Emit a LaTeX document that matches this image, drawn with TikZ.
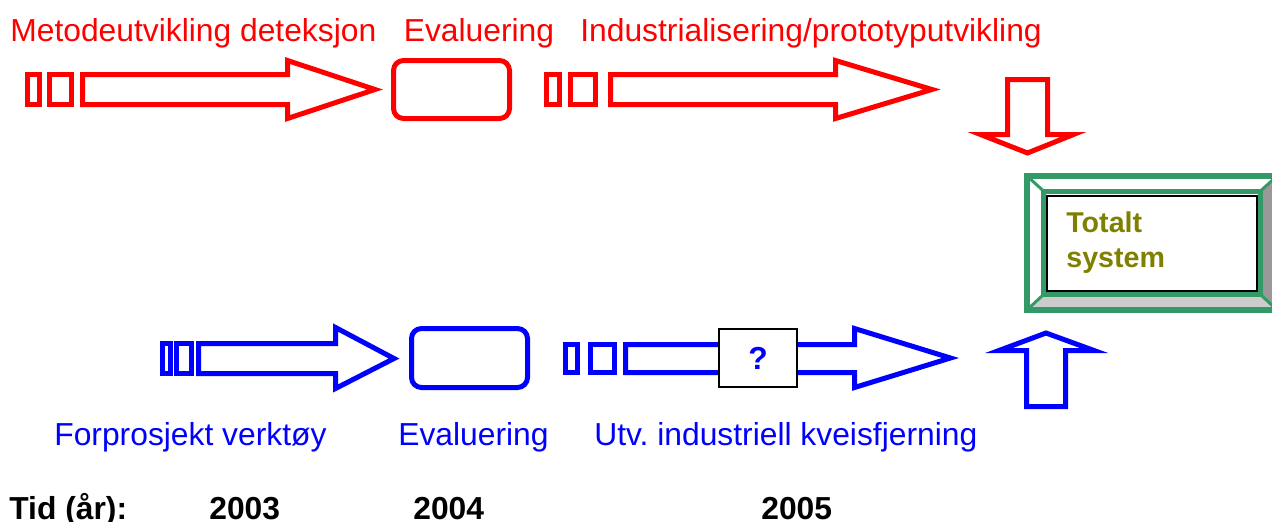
\documentclass[tikz,border=0pt]{standalone}
\usepackage{fontspec}
\setmainfont{Liberation Sans}
\definecolor{seagreen}{RGB}{51,153,102}
\definecolor{olivetext}{RGB}{128,128,0}
\definecolor{bevelgray}{RGB}{153,153,153}
\definecolor{bevellight}{RGB}{204,204,204}

\begin{document}
\begin{tikzpicture}[x=0.02cm, y=-0.02cm,
  redline/.style={draw=red, line width=0.1cm, line join=miter},
  blueline/.style={draw=blue, line width=0.1cm, line join=miter},
  phase/.style={inner sep=0pt, anchor=base west, font=\fontsize{18.1}{21.6}\selectfont},
  yeartext/.style={phase, font=\fontsize{18.1}{21.6}\selectfont\bfseries}]
\useasboundingbox (0,0) rectangle (1272,521); % adjust bounding box

% red track
\draw[redline] (27.5,74.5) rectangle (39.5,104.5);
\draw[redline] (49.5,74.5) rectangle (71.5,104.5);
\draw[redline]
     (82.5,74.5)
  -- (287.5,74.5)
  -- (287.5,60.5)
  -- (375,89.5)
  -- (287.5,118.5)
  -- (287.5,104.5)
  -- (82.5,104.5)
  -- cycle;
\draw[redline, rounded corners=0.2cm] (393.5,60.5) rectangle (509.5,118.5);
\draw[redline] (546.5,74.5) rectangle (559.5,104.5);
\draw[redline] (570.5,74.5) rectangle (595.5,104.5);
\draw[redline]
     (610.5,74.5)
  -- (835.5,74.5)
  -- (835.5,60.5)
  -- (932,89.5)
  -- (835.5,118.5)
  -- (835.5,104.5)
  -- (610.5,104.5)
  -- cycle;
\draw[redline]
     (1007.5,79.5)
  -- (1047.5,79.5)
  -- (1047.5,134.5)
  -- (1073.5,134.5)
  -- (1027.5,153)
  -- (980.5,134.5)
  -- (1007.5,134.5)
  -- cycle;

% blue track
\draw[blueline] (162.5,343.5) rectangle (170.5,373.5);
\draw[blueline] (176.5,343.5) rectangle (191.5,373.5);
\draw[blueline]
     (198.5,343.5)
  -- (335.5,343.5)
  -- (335.5,327.5)
  -- (394,358.5)
  -- (335.5,388.5)
  -- (335.5,373.5)
  -- (198.5,373.5)
  -- cycle;
\draw[blueline, rounded corners=0.2cm] (411.5,328.5) rectangle (527.5,387.5);
\draw[blueline] (565.5,344.5) rectangle (577.5,372.5);
\draw[blueline] (590.5,344.5) rectangle (614.5,372.5);
\draw[blueline]
     (625.5,344.5)
  -- (854.5,344.5)
  -- (854.5,328.5)
  -- (950.5,358)
  -- (854.5,387.5)
  -- (854.5,372.5)
  -- (625.5,372.5)
  -- cycle;
\node[draw=black, fill=white, line width=0.03cm, minimum width=1.56cm, minimum height=1.16cm,
      font=\fontsize{18.1}{21.6}\selectfont\bfseries, text=blue] (unknown) at (758,358) {?};
\draw[blueline]
     (1026.5,406.5)
  -- (1065.5,406.5)
  -- (1065.5,350.5)
  -- (1094,350.5)
  -- (1046,333)
  -- (999,350.5)
  -- (1026.5,350.5)
  -- cycle;

% total system
\fill[white]      (1027,176) -- (1277,176) -- (1260.5,191) -- (1043.5,191) -- cycle;
\fill[bevelgray]  (1277,176) -- (1277,310) -- (1260.5,294.5) -- (1260.5,191) -- cycle;
\fill[bevellight] (1027,310) -- (1277,310) -- (1260.5,294.5) -- (1043.5,294.5) -- cycle;
\draw[seagreen, line width=0.06cm]
  (1027,176) -- (1043.5,191) (1277,176) -- (1260.5,191)
  (1027,310) -- (1043.5,294.5) (1277,310) -- (1260.5,294.5);
\draw[seagreen, line width=0.12cm] (1027,176) rectangle (1277,310);
\draw[seagreen, line width=0.1cm] (1043.5,191) rectangle (1260.5,294.5);
\draw[black, line width=0.04cm] (1047,196) rectangle (1257,290.5);
\node[phase, align=left, text=olivetext, font=\fontsize{16.3}{19.4}\selectfont\bfseries]
  (total) at (1066,267) {Totalt\\system};

% labels
\node[phase, text=red] (method) at (10,41) {Metodeutvikling deteksjon};
\node[phase, text=red] (evaltop) at (403.5,41) {Evaluering};
\node[phase, text=red] (industry) at (580,41) {Industrialisering/prototyputvikling};
\node[phase, text=blue] (preproject) at (54,445) {Forprosjekt verktøy};
\node[phase, text=blue] (evalbottom) at (398,445) {Evaluering};
\node[phase, text=blue] (removal) at (594,445) {Utv.\ industriell kveisfjerning};
\node[yeartext] (time) at (9,519) {Tid (år):};
\node[yeartext] (y2003) at (209,519) {2003};
\node[yeartext] (y2004) at (413,519) {2004};
\node[yeartext] (y2005) at (761,519) {2005};
\end{tikzpicture}
\end{document}
